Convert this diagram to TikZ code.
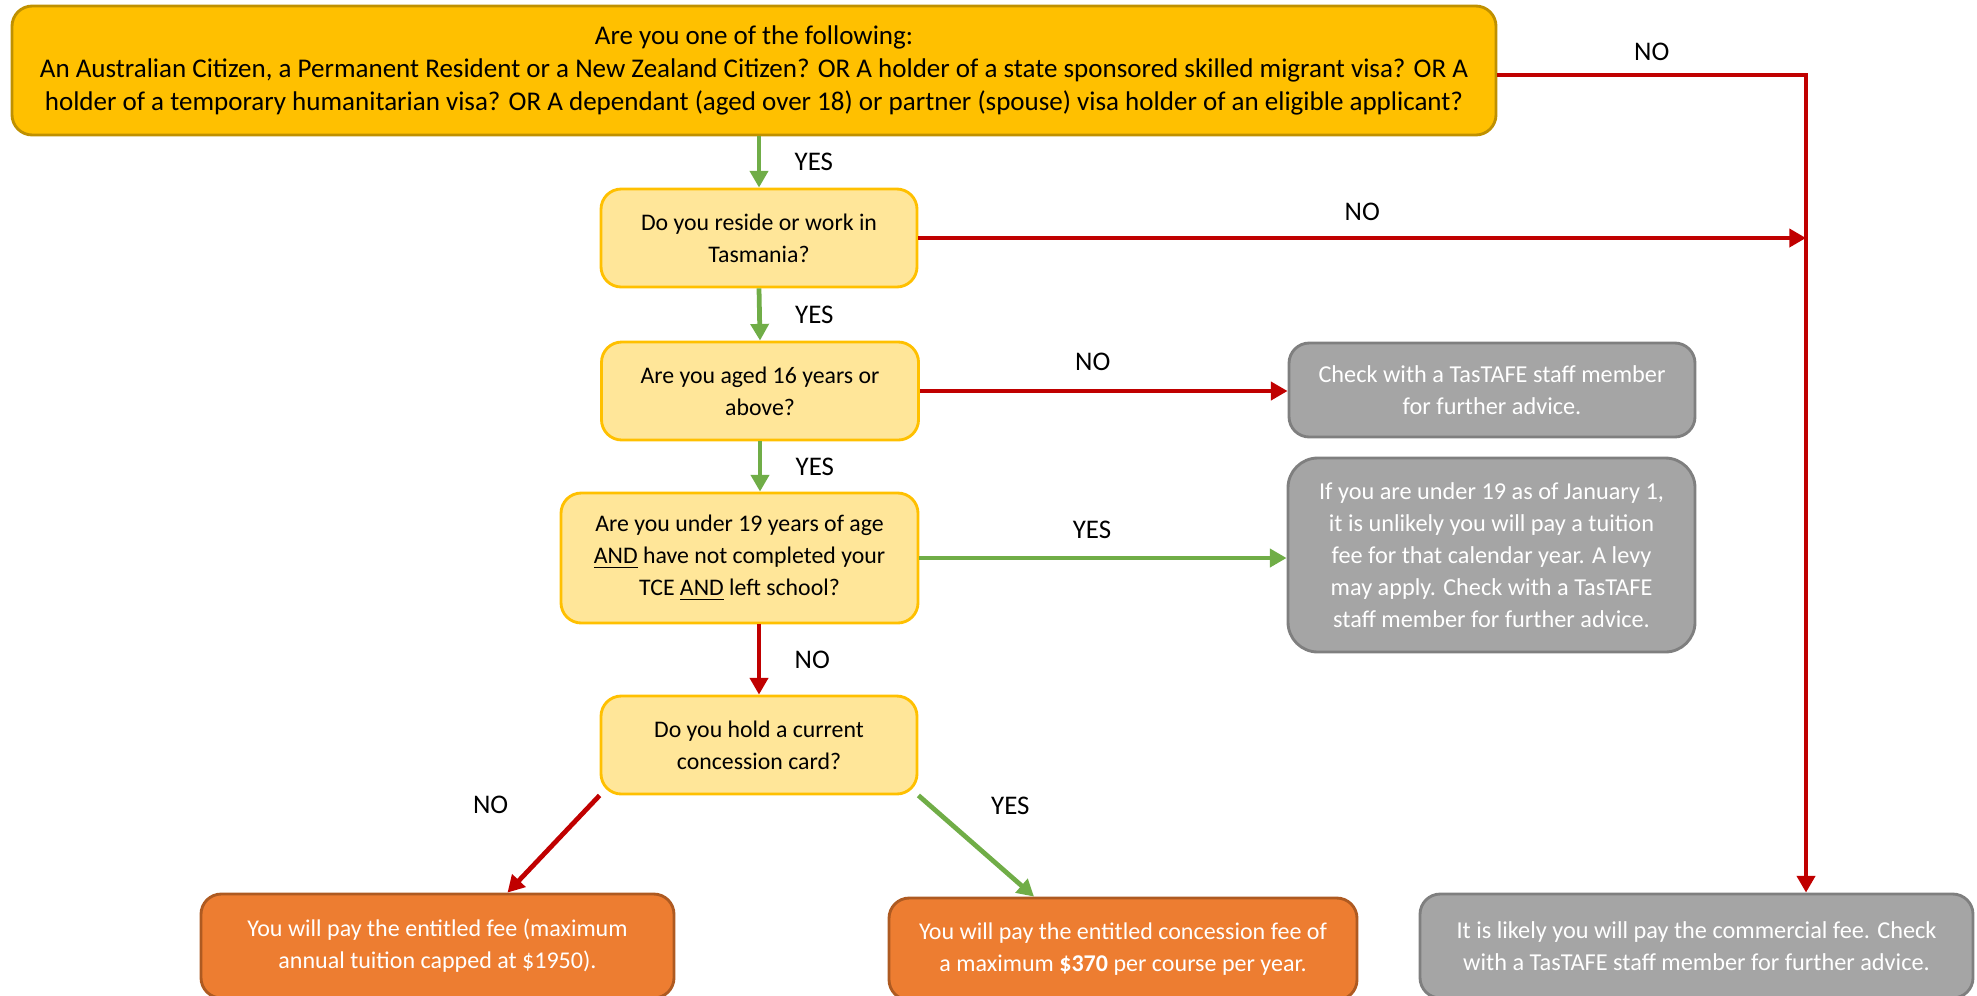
\documentclass[tikz,border=0pt]{standalone}
\usepackage{fontspec}
\setmainfont{Carlito}
\usepackage{tikz}
\usetikzlibrary{arrows.meta}
\usetikzlibrary{calc}
\usetikzlibrary{positioning}
\definecolor{gold}{HTML}{FFC000}
\definecolor{golddark}{HTML}{BF9000}
\definecolor{paleyellow}{HTML}{FFE699}
\definecolor{greybox}{HTML}{A5A5A5}
\definecolor{greyline}{HTML}{7F7F7F}
\definecolor{orangebox}{HTML}{ED7D31}
\definecolor{orangeline}{HTML}{AE5A21}
\definecolor{noRed}{HTML}{C00000}
\definecolor{yesGreen}{HTML}{70AD47}
\newcommand{\pxu}{0.42pt}
\tikzstyle{box} = [rectangle, rounded corners=8.5pt, line width=1.2pt, align=center, inner sep=0pt, font=\fontsize{10}{13.4}\selectfont]
\tikzstyle{topq} = [box, fill=gold, draw=golddark, font=\fontsize{11.35}{13.9}\selectfont]
\tikzstyle{question} = [box, fill=paleyellow, draw=gold]
\tikzstyle{advice} = [box, fill=greybox, draw=greyline, text=white, font=\fontsize{10.2}{13.4}\selectfont]
\tikzstyle{fee} = [box, fill=orangebox, draw=orangeline, text=white, font=\fontsize{10.1}{13.4}\selectfont]
\tikzstyle{yesarrow} = [line width=2pt, draw=yesGreen, -{Triangle[length=7pt,width=7.5pt]}]
\tikzstyle{noarrow} = [line width=2pt, draw=noRed, -{Triangle[length=7pt,width=7.5pt]}]
\tikzstyle{lbl} = [font=\fontsize{11.3}{13}\selectfont, inner sep=0pt]

\begin{document}
\begin{tikzpicture}[x=\pxu, y=-\pxu]
\useasboundingbox (0,0) rectangle (1977,995);

\node[topq, minimum width=1484*\pxu, minimum height=129*\pxu] (q1) at (754,70.5)
	{Are you one of the following:\\
	An Australian Citizen, a Permanent Resident or a New Zealand Citizen? OR A holder of a state sponsored skilled migrant visa? OR A\\
	holder of a temporary humanitarian visa? OR A dependant (aged over 18) or partner (spouse) visa holder of an eligible applicant?};
\node[question, minimum width=316*\pxu, minimum height=98*\pxu] (q2) at (759,238) {Do you reside or work in\\ Tasmania?};
\node[question, minimum width=317*\pxu, minimum height=98*\pxu] (q3) at (760,391) {Are you aged 16 years or\\ above?};
\node[question, minimum width=357*\pxu, minimum height=130*\pxu] (q4) at (739.5,558)
	{Are you under 19 years of age\\ \underline{AND} have not completed your\\ TCE \underline{AND} left school?};
\node[question, minimum width=316*\pxu, minimum height=98*\pxu] (q5) at (759,745) {Do you hold a current\\ concession card?};

\node[advice, minimum width=406*\pxu, minimum height=94*\pxu] (g1) at (1492,390) {Check with a TasTAFE staff member\\ for further advice.};
\node[advice, rounded corners=12.5pt, minimum width=407*\pxu, minimum height=194*\pxu] (g2) at (1491.5,555)
	{If you are under 19 as of January 1,\\ it is unlikely you will pay a tuition\\ fee for that calendar year. A levy\\ may apply. Check with a TasTAFE\\ staff member for further advice.};
\node[advice, minimum width=553*\pxu, minimum height=104*\pxu] (g3) at (1696.5,946)
	{It is likely you will pay the commercial fee. Check\\ with a TasTAFE staff member for further advice.};

\node[fee, minimum width=473*\pxu, minimum height=104*\pxu] (o1) at (437.5,946)
	{You will pay the entitled fee (maximum\\ annual tuition capped at \$1950).};
\node[fee, minimum width=468*\pxu, minimum height=102*\pxu] (o2) at (1123,949)
	{You will pay the entitled concession fee of\\ a maximum \textbf{\$370} per course per year.};

\coordinate (rline) at (1806,0);

\draw[yesarrow] (q1.south -| q2.north) -- node[lbl, right=14pt] (l1) {YES} (q2.north);
\draw[yesarrow] (q2.south) -- node[lbl, right=14pt] (l2) {YES} (q3.north);
\draw[yesarrow] (q3.south) -- node[lbl, right=14pt] (l3) {YES} (q3.south |- q4.north);
\draw[noarrow] (q4.south -| q5.north) -- node[lbl, right=14pt] (l4) {NO} (q5.north);

\draw[noarrow] ([yshift=-1.9pt]q1.east) -| node[lbl, pos=0.25, above=4.9pt] (l5) {NO} (rline |- g3.north);
\draw[noarrow] (q2.east) -- node[lbl, midway, above=6.4pt] (l6) {NO} (rline |- q2.east);
\draw[noarrow] (q3.east) -- node[lbl, pos=0.47, above=7.7pt] (l7) {NO} (q3.east -| g1.west);
\draw[yesarrow] (q4.east) -- node[lbl, pos=0.47, above=7.3pt] (l8) {YES} (q4.east -| g2.west);

\draw[noarrow] (q5.south west) -- node[lbl, pos=0.1, left=33.5pt] (l9) {NO} ($(o1.north)+(70,0)$);
\draw[yesarrow] (q5.south east) -- node[lbl, pos=0.1, right=24.7pt] (l10) {YES} ($(o2.north)+(-89,0)$);
\end{tikzpicture}
\end{document}
